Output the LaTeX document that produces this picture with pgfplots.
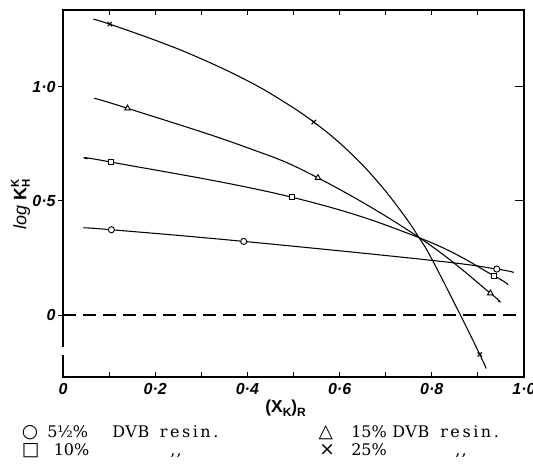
\documentclass[border=0pt]{standalone}
\usepackage{fontspec}
\setmainfont{DejaVu Serif}
\setsansfont{Liberation Sans}
\newfontfamily\symfont{DejaVu Sans}
\usepackage{pgfplots}
\pgfplotsset{compat=1.18}
\begin{document}
\begin{tikzpicture}
\begin{axis}[
  at={(0,0)}, anchor=south west,
  scale only axis, width=345.75pt, height=275.25pt,
  xmin=0, xmax=1, ymin=-0.27, ymax=1.335,
  axis line style={line width=1.1pt},
  tick align=inside,
  major tick length=3.75pt, minor tick length=3.75pt,
  tick style={line width=0.8pt, black},
  xtick={0,0.2,0.4,0.6,0.8,1.0},
  xticklabels={0,0·2,0·4,0·6,0·8,1·0\hspace{12pt}},
  minor xtick={0.1,0.3,0.5,0.7,0.9},
  xtick pos=both,
  ytick={0,0.5,1.0},
  yticklabels={0,0·5,1·0},
  ytick pos=left,
  y tick style={xshift=-3.75pt},
  tick label style={font=\sffamily\bfseries\itshape\fontsize{12}{14}\selectfont},
  x tick label style={yshift=-1pt},
  y tick label style={xshift=-2pt},
  xlabel={\sffamily\bfseries\fontsize{13}{15}\selectfont (X\raisebox{-0.45ex}{\fontsize{9}{10}\selectfont K})\raisebox{-0.45ex}{\fontsize{9}{10}\selectfont R}},
  xlabel style={at={(axis description cs:0.483,-0.085)}, anchor=center},
  ylabel={{\sffamily\itshape\fontsize{13.5}{15}\selectfont log} {\sffamily\bfseries\fontsize{13.5}{15}\selectfont K}\rlap{\raisebox{1.1ex}{\sffamily\bfseries\fontsize{8.5}{9}\selectfont K}}\raisebox{-0.5ex}{\sffamily\bfseries\fontsize{8.5}{9}\selectfont H}},
  ylabel style={at={(axis description cs:-0.092,0.47)}, anchor=center, rotate=0},
  clip=false,
]
% zero line
\addplot[black, line width=1.2pt, dash pattern=on 10pt off 5pt] coordinates {(0,0) (1,0)};
% 5 1/2 % DVB
\addplot[black, line width=0.8pt, smooth, tension=0.7] coordinates {
 (0.0457,0.382) (0.105,0.374) (0.392,0.323) (0.800,0.240) (0.941,0.202) (0.978,0.187)};
% 10 %
\addplot[black, line width=0.8pt, smooth, tension=0.7] coordinates {
 (0.053,0.684) (0.104,0.670) (0.497,0.516) (0.774,0.338) (0.935,0.1725) (0.964,0.133)};
% 15 %
\addplot[black, line width=0.8pt, smooth, tension=0.7] coordinates {
 (0.0674,0.949) (0.140,0.905) (0.390,0.740) (0.553,0.601) (0.774,0.338) (0.927,0.0965) (0.944,0.062)};
% 25 %
\addplot[black, line width=0.8pt, smooth, tension=0.7] coordinates {
 (0.066,1.295) (0.1015,1.273) (0.209,1.196) (0.296,1.125) (0.394,1.032) (0.470,0.945)
 (0.544,0.845) (0.615,0.726) (0.680,0.590) (0.738,0.442) (0.774,0.334) (0.800,0.246)
 (0.861,0.005) (0.904,-0.171) (0.918,-0.233)};
% markers
\addplot[only marks, mark=*, mark size=2.3pt, mark options={fill=white, draw=black, line width=0.7pt}] coordinates {
 (0.105,0.374) (0.392,0.323) (0.941,0.202)};
\addplot[only marks, mark=square*, mark size=1.8pt, mark options={fill=white, draw=black, line width=0.7pt}] coordinates {
 (0.104,0.670) (0.497,0.516) (0.935,0.1725)};
\addplot[only marks, mark=triangle*, mark size=2.4pt, mark options={fill=white, draw=black, line width=0.7pt}] coordinates {
 (0.140,0.905) (0.553,0.601) (0.927,0.0965)};
\addplot[only marks, mark=x, mark size=2.3pt, mark options={draw=black, line width=0.8pt}] coordinates {
 (0.1015,1.273) (0.544,0.845) (0.904,-0.171)};
% right axis line and right-hand ticks
\draw[line width=1.1pt] (rel axis cs:1,0) -- (rel axis cs:1,1);
\draw[line width=0.8pt] (axis cs:1,1) -- ++(-6.5pt,0pt);
\draw[line width=0.8pt] (axis cs:1,0.5) -- ++(-6.5pt,0pt);
% break in the left axis line
\draw[white, line width=3pt] (axis cs:0,-0.137) -- (axis cs:0,-0.172);
\end{axis}
% legend
\begin{scope}[every node/.style={inner sep=0pt, anchor=base west, font=\fontsize{12}{14}\selectfont}]
\node at (-31pt,-45.75pt) {\symfont\fontsize{14}{15}\selectfont ○};
\node at (-12pt,-45.75pt) {5½\%};
\node at (36.75pt,-45.75pt) {\addfontfeature{LetterSpace=4}DVB};
\node at (72.4pt,-45.75pt) {\addfontfeature{LetterSpace=16}resin.};
\node at (191.5pt,-45.75pt) {\symfont\fontsize{14}{15}\selectfont △};
\node at (216pt,-45.75pt) {15\%};
\node at (246.75pt,-45.75pt) {\addfontfeature{LetterSpace=4}DVB};
\node at (282.75pt,-45.75pt) {\addfontfeature{LetterSpace=16}resin.};
\node at (-31pt,-59.25pt) {\symfont\fontsize{14}{15}\selectfont □};
\node at (-7.1pt,-59.25pt) {10\%};
\node at (80.25pt,-59.25pt) {,\kern1pt,};
\node at (192pt,-59.25pt) {\symfont\fontsize{14}{15}\selectfont ×};
\node at (216pt,-59.25pt) {25\%};
\node at (294pt,-59.25pt) {,\kern1pt,};
\end{scope}
\pgfresetboundingbox
\path[use as bounding box] (-47.25pt,-65.25pt) rectangle (352.5pt,282.75pt);
\end{tikzpicture}
\end{document}
